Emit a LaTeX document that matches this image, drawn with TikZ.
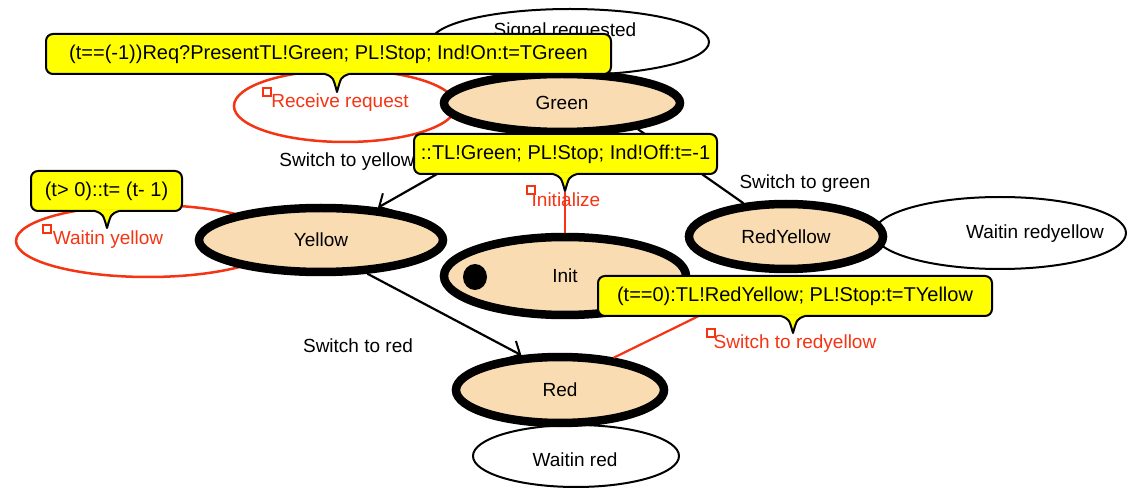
\documentclass[tikz,border=0pt]{standalone}
\usepackage{fontspec}
\setmainfont{Liberation Sans}
\usetikzlibrary{arrows.meta,shapes.geometric}
\definecolor{statefill}{RGB}{249,220,178}
\definecolor{selred}{RGB}{245,52,20}
\definecolor{noteyellow}{RGB}{255,255,0}
\tikzset{
  statebox/.style={ellipse, draw=black, line width=8.5pt, fill=statefill, inner sep=0pt},
  waitbox/.style={ellipse, draw=black, line width=2pt, fill=white, inner sep=0pt},
  waitsel/.style={ellipse, draw=selred, line width=2.5pt, fill=white, inner sep=0pt},
  txt/.style={font=\fontsize{19}{22}\selectfont, inner sep=0pt},
  redtxt/.style={txt, text=selred},
  selmark/.style={rectangle, draw=selred, line width=2pt, fill=white, minimum size=8pt, inner sep=0pt},
  conn/.style={line width=2.2pt, draw=black},
  arr/.style={conn, -{Straight Barb[length=10pt,width=20pt,line width=2pt]}},
  notebox/.style={rectangle, rounded corners=7pt, fill=noteyellow, draw=black, line width=2pt,
                  minimum height=40pt, inner sep=0pt, font=\fontsize{20}{23}\selectfont},
}
% pointer under a note box: #1 = tip x, #2 = box bottom y, #3 = tip y
\newcommand\notetip[3]{%
  \fill[noteyellow] (#1-12,#2-1.6) -- (#1+12,#2-1.6) -- (#1+12,#2)
     .. controls (#1+4,#2+3) .. (#1,#3) .. controls (#1-4,#2+3) .. (#1-12,#2) -- cycle;
  \draw[line width=2pt, line join=round] (#1+12,#2)
     .. controls (#1+4,#2+3) .. (#1,#3) .. controls (#1-4,#2+3) .. (#1-12,#2);}
\begin{document}
\begin{tikzpicture}[x=1pt,y=-1pt]
\useasboundingbox[fill=white] (0,0) rectangle (1128,489);

% wait regions behind the states
\node[waitbox, minimum width=278pt, minimum height=66pt] (sigreq) at (570,42) {};
\node[waitsel, minimum width=222pt, minimum height=72pt] (recreq) at (345,106) {};
\node[waitsel, minimum width=264pt, minimum height=72pt] (waity) at (148,241) {};
\node[waitbox, minimum width=252pt, minimum height=72pt] (waitry) at (1000,233) {};
\node[waitbox, minimum width=206pt, minimum height=62pt] (waitr) at (576,456) {};

\node[txt] (sigreqlbl) at (565,32) {Signal requested};
\node[redtxt] (recreqlbl) at (340,103) {Receive request};
\node[redtxt] (waitylbl) at (108,240) {Waitin yellow};
\node[txt] (waitrylbl) at (1035,234) {Waitin redyellow};
\node[txt] (waitrlbl) at (575,460) {Waitin red};

% states
\node[statebox, minimum width=236pt, minimum height=58pt] (Green) at (562,103) {};
\node[statebox, minimum width=244pt, minimum height=64pt] (Yellow) at (321,240) {};
\node[statebox, minimum width=242pt, minimum height=78pt] (Init) at (565,276) {};
\node[statebox, minimum width=194pt, minimum height=65pt] (RedYellow) at (786,236.5) {};
\node[statebox, minimum width=208pt, minimum height=66pt] (Red) at (560,390) {};

% transitions
\coordinate (inittop) at (565,192);
\draw[selred, line width=2pt] (Init.north) -- (inittop);
\draw[arr] (Green) -- (Yellow);
\draw[conn] (RedYellow.142) -- (Green.-19);
\draw[arr] (Yellow.-36) -- (Red.138);
\draw[selred, line width=2.2pt, shorten >=8pt] (Red.31) -- (RedYellow.south);

% state names
\node[txt] at (Green) {Green};
\node[txt] at (Yellow) {Yellow};
\node[txt] at (Init) {Init};
\node[txt] at (RedYellow) {RedYellow};
\node[txt] at (Red) {Red};
\node[ellipse, fill=black, minimum width=24pt, minimum height=26pt, inner sep=0pt] (initdot) at (475,277) {};

% transition names
\node[txt] (lswy) at (347,162) {Switch to yellow};
\node[txt] (lswg) at (805,184) {Switch to green};
\node[txt] (lswr) at (358,346) {Switch to red};
\node[redtxt] (lini) at (566,200) {Initialize};
\node[redtxt] (lswry) at (795,344) {Switch to redyellow};

% selection markers
\node[selmark] (m1) at (267,92) {};
\node[selmark] (m2) at (531,190) {};
\node[selmark] (m3) at (47,229) {};
\node[selmark] (m4) at (711,333) {};

% guard / action notes
\node[notebox, minimum width=565pt] (n1) at (328.5,54) {(t==(-1))Req?PresentTL!Green; PL!Stop; Ind!On:t=TGreen};
\notetip{337}{74}{92}
\node[notebox, minimum width=303pt] (n2) at (565.5,154) {::TL!Green; PL!Stop; Ind!Off:t=-1};
\notetip{565}{174}{191}
\node[notebox, minimum width=151pt] (n3) at (106.5,191) {(t> 0)::t= (t- 1)};
\notetip{107}{211}{228}
\node[notebox, minimum width=394pt] (n4) at (795,296) {(t==0):TL!RedYellow; PL!Stop:t=TYellow};
\notetip{793}{316}{333}
\end{tikzpicture}
\end{document}
